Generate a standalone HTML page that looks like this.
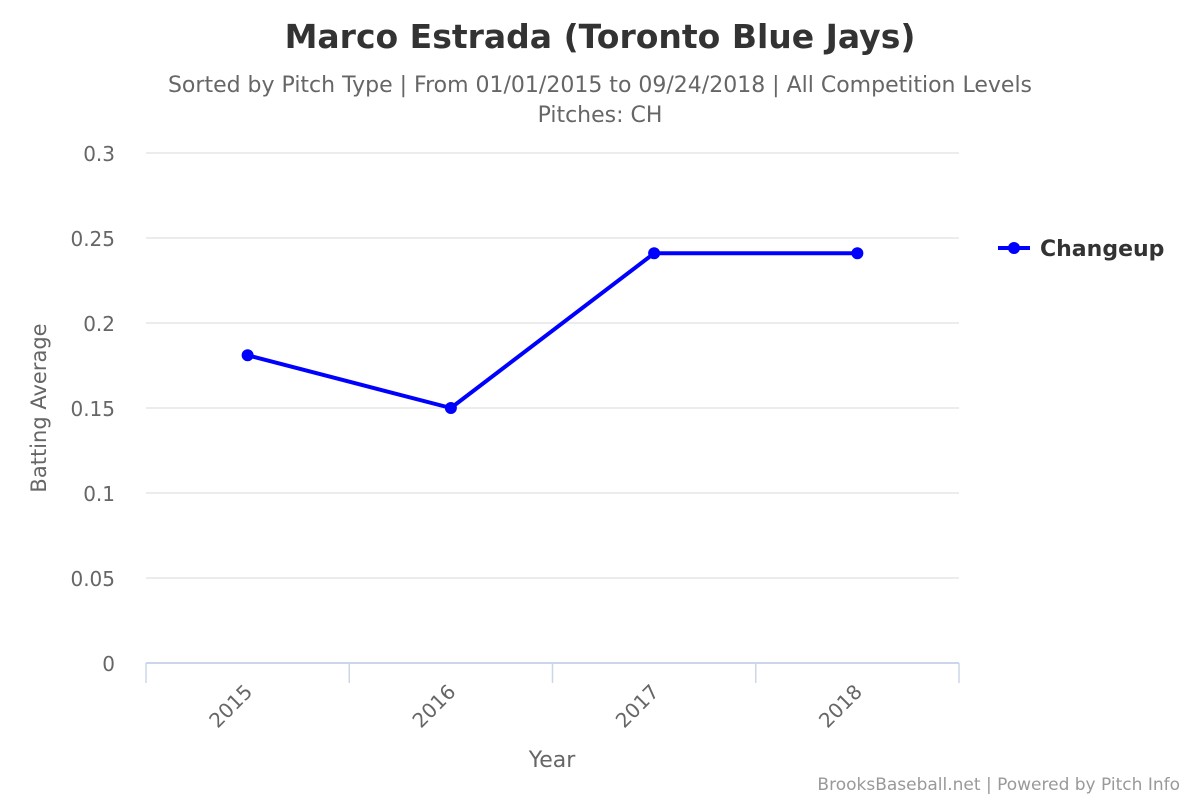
<!DOCTYPE html>
<html><head><meta charset="utf-8"><style>
body{margin:0;background:#fff;}
svg{font-family:"DejaVu Sans","Liberation Sans",sans-serif;}
</style></head><body>
<svg id="chart" width="1200" height="800" viewBox="0 0 1200 800">
<text x="600" y="48" text-anchor="middle" font-size="33" font-weight="bold" fill="#333">Marco Estrada (Toronto Blue Jays)</text>
<text x="600" y="92" text-anchor="middle" font-size="22" fill="#666">Sorted by Pitch Type | From 01/01/2015 to 09/24/2018 | All Competition Levels</text>
<text x="600" y="122" text-anchor="middle" font-size="22" fill="#666">Pitches: CH</text>
<g id="grid"></g><g id="xaxis"></g><g id="series"></g>
<text transform="translate(46,408) rotate(-90)" text-anchor="middle" font-size="21" fill="#666">Batting Average</text>
<text x="552" y="767" text-anchor="middle" font-size="22" fill="#666">Year</text>
<g>
<line x1="998" y1="248" x2="1030" y2="248" stroke="#0000ff" stroke-width="4"/>
<circle cx="1014" cy="248" r="6" fill="#0000ff"/>
<text x="1040" y="256" font-size="22" font-weight="bold" fill="#333">Changeup</text>
</g>
<text x="1180" y="790" text-anchor="end" font-size="17" fill="#999">BrooksBaseball.net | Powered by Pitch Info</text>
</svg>
<script>
const categories=["2015","2016","2017","2018"];
const values=[0.181,0.150,0.241,0.241];
const yTicks=[0,0.05,0.1,0.15,0.2,0.25,0.3];
const yTickLabels=["0","0.05","0.1","0.15","0.2","0.25","0.3"];
const NS="http://www.w3.org/2000/svg";
const X0=146,X1=959,Y0=663,Y1=153,YMAX=0.3;
const bw=(X1-X0)/categories.length;
const xs=i=>X0+bw*(i+0.5);
const ys=v=>Y0-(v/YMAX)*(Y0-Y1);
function mk(t,a,p){const e=document.createElementNS(NS,t);for(const k in a)e.setAttribute(k,a[k]);p.appendChild(e);return e;}
const grid=document.getElementById('grid');
yTicks.forEach((v,i)=>{
 const l=mk('line',{x1:X0,x2:X1,y1:ys(v),y2:ys(v),stroke:i===0?'#ccd6eb':'#e6e6e6','stroke-width':i===0?2:1.5},grid);
 
 
 const t=mk('text',{x:115,y:ys(v)+8,'text-anchor':'end','font-size':20,fill:'#666'},grid);
 t.textContent=yTickLabels[i];
 
 
});
const xa=document.getElementById('xaxis');
for(let i=0;i<=categories.length;i++){
 const x=X0+bw*i;
 const l=mk('line',{x1:x,x2:x,y1:Y0,y2:Y0+20,stroke:'#ccd6eb','stroke-width':1.5},xa);
 
 
}
categories.forEach((c,i)=>{
 const x=xs(i)+6,y=Y0+30;
 const t=mk('text',{x:x,y:y,'text-anchor':'end','font-size':20,fill:'#666',transform:`rotate(-45 ${x} ${y})`},xa);
 t.textContent=c;
 
 
});
const s=document.getElementById('series');
const pl=mk('polyline',{points:values.map((v,i)=>xs(i)+','+ys(v)).join(' '),fill:'none',stroke:'#0000ff','stroke-width':4,'stroke-linejoin':'round'},s);


values.forEach((v,i)=>{
 const c=mk('circle',{cx:xs(i),cy:ys(v),r:6,fill:'#0000ff'},s);
 
 
});
</script>
</body></html>
